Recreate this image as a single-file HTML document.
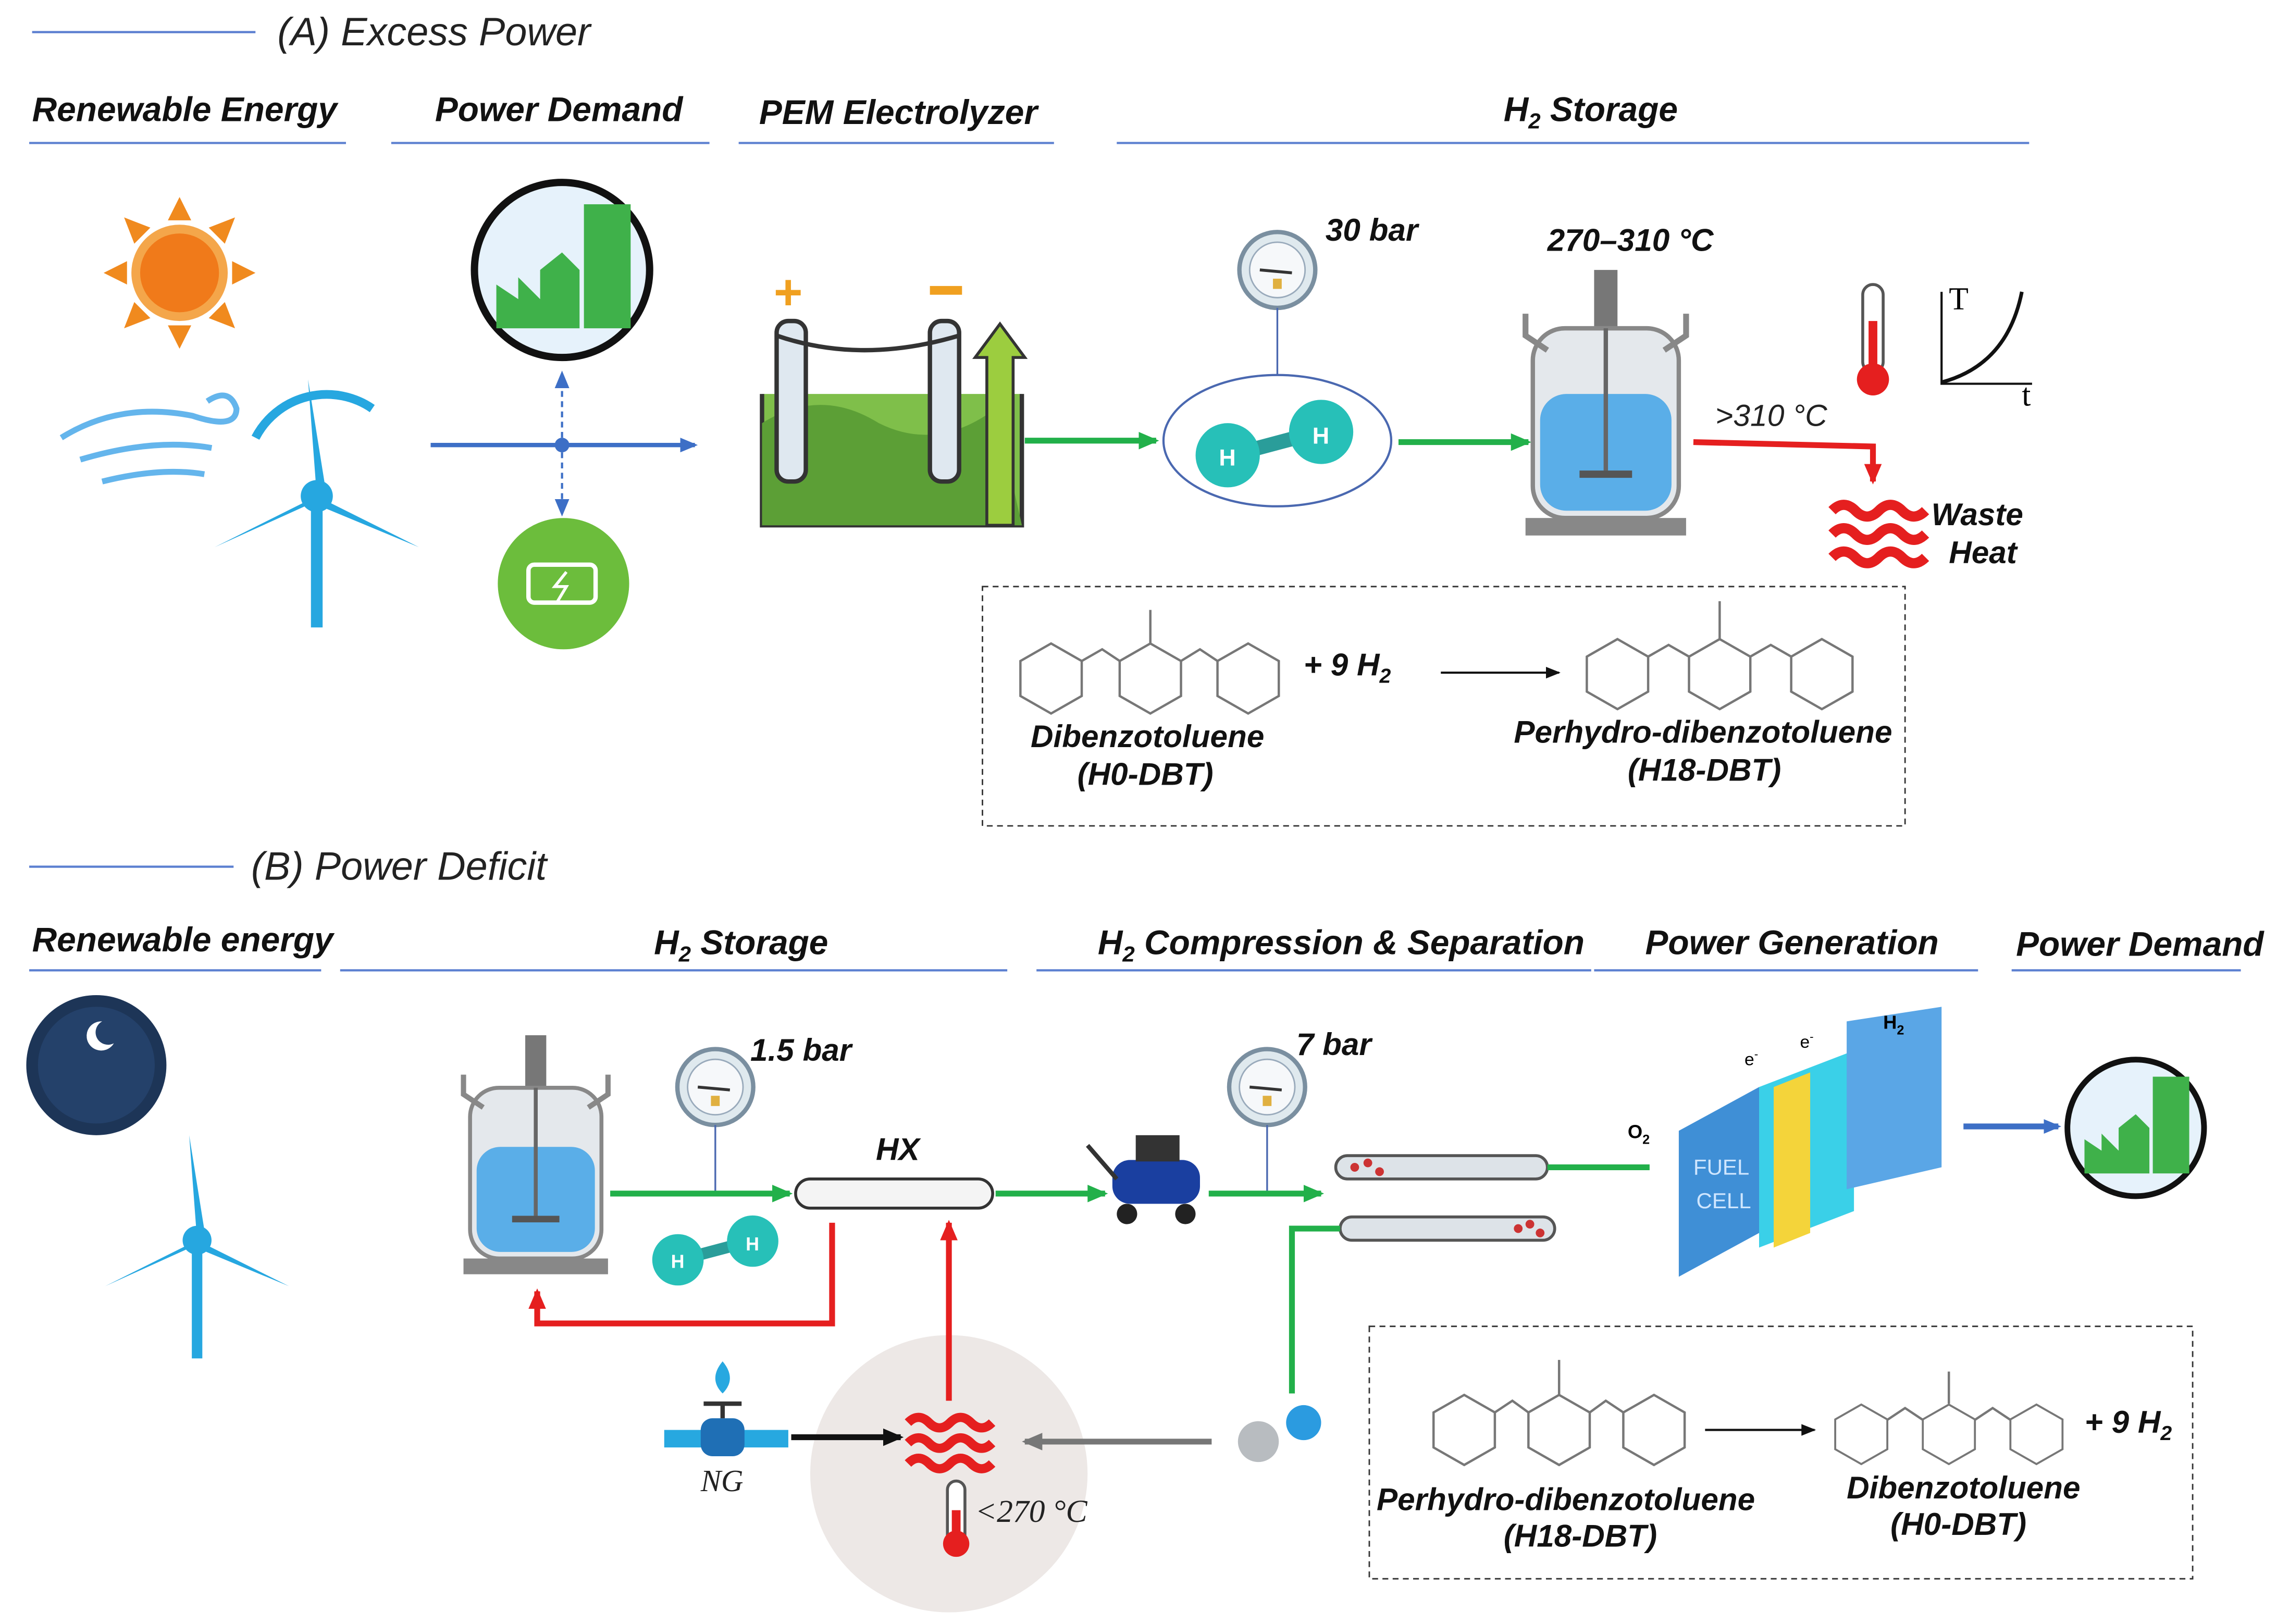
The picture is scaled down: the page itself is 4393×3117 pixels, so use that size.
<!DOCTYPE html>
<html><head><meta charset="utf-8"><style>
html,body{margin:0;padding:0;background:#fff;}
svg{display:block}
text{font-family:"Liberation Sans",sans-serif;}
.h{font-weight:bold;font-style:italic;font-size:23.5px;fill:#111}
.i{font-style:italic;font-size:21px;fill:#222}
.l{font-weight:bold;font-style:italic;font-size:21.5px;fill:#111}
</style></head><body>
<svg width="4393" height="3117" viewBox="0 0 1568 1113" preserveAspectRatio="none" xmlns="http://www.w3.org/2000/svg">
<defs>
<marker id="ag" markerWidth="14" markerHeight="12" refX="12" refY="6" orient="auto" markerUnits="userSpaceOnUse"><path d="M0,0 L14,6 L0,12 z" fill="#22b04a"/></marker>
<marker id="ab" markerWidth="12" markerHeight="10" refX="10" refY="5" orient="auto" markerUnits="userSpaceOnUse"><path d="M0,0 L12,5 L0,10 z" fill="#3d6fc6"/></marker>
<marker id="ar" markerWidth="14" markerHeight="12" refX="12" refY="6" orient="auto" markerUnits="userSpaceOnUse"><path d="M0,0 L14,6 L0,12 z" fill="#e51f1f"/></marker>
<marker id="ak" markerWidth="14" markerHeight="12" refX="12" refY="6" orient="auto" markerUnits="userSpaceOnUse"><path d="M0,0 L14,6 L0,12 z" fill="#111"/></marker>
<marker id="ak2" markerWidth="10" markerHeight="8" refX="9" refY="4" orient="auto" markerUnits="userSpaceOnUse"><path d="M0,0 L10,4 L0,8 z" fill="#111"/></marker>
<marker id="ay" markerWidth="14" markerHeight="12" refX="12" refY="6" orient="auto" markerUnits="userSpaceOnUse"><path d="M0,0 L14,6 L0,12 z" fill="#777"/></marker>
<g id="hex"><polygon points="0,-24 21,-12 21,12 0,24 -21,12 -21,-12" fill="none" stroke="#777" stroke-width="1.6"/></g>
<g id="gauge"><circle r="26" fill="#dfe9ee" stroke="#7a8fa0" stroke-width="3"/><circle r="19" fill="#f6f8fa" stroke="#9ab" stroke-width="1"/><line x1="-12" y1="0" x2="10" y2="2" stroke="#333" stroke-width="2"/><rect x="-3" y="6" width="6" height="7" fill="#e0b040"/></g>
<g id="h2"><line x1="-30" y1="8" x2="30" y2="-8" stroke="#2a9d9a" stroke-width="10"/><circle cx="-32" cy="8" r="22" fill="#27c0b8"/><circle cx="32" cy="-8" r="22" fill="#27c0b8"/><text x="-38" y="15" font-size="16" font-weight="bold" fill="#fff">H</text><text x="26" y="0" font-size="16" font-weight="bold" fill="#fff">H</text></g>
<g id="reactor"><rect x="-8" y="-95" width="16" height="40" fill="#777"/><rect x="-50" y="-55" width="100" height="130" rx="22" fill="#e4e8ec" stroke="#888" stroke-width="3"/><rect x="-45" y="-10" width="90" height="80" rx="18" fill="#5aaee8"/><line x1="0" y1="-55" x2="0" y2="45" stroke="#666" stroke-width="3"/><path d="M-18,45 L18,45" stroke="#555" stroke-width="5"/><rect x="-55" y="75" width="110" height="12" fill="#888"/><path d="M-40,-40 L-55,-50 L-55,-65 M40,-40 L55,-50 L55,-65" stroke="#888" stroke-width="4" fill="none"/></g>
<g id="wave"><path d="M0,0 q8,-8 16,0 t16,0 t16,0 t16,0" fill="none" stroke="#e51f1f" stroke-width="7"/></g>
<g id="city"><circle r="60" fill="#e6f2fb" stroke="#111" stroke-width="5"/><rect x="15" y="-45" width="32" height="85" fill="#3fb14a"/><path d="M-45,40 L-45,10 L-30,20 L-30,5 L-15,20 L-15,0 L0,-12 L12,0 L12,40 z" fill="#3fb14a"/></g>
<g id="turb"><line x1="0" y1="0" x2="0" y2="90" stroke="#26a7e0" stroke-width="8"/><path d="M0,0 L-6,-80 L6,-5 z M0,0 L70,35 L5,8 z M0,0 L-70,35 L-6,6 z" fill="#26a7e0"/><circle r="11" fill="#26a7e0"/></g>
</defs>

<!-- Section A -->
<line x1="22" y1="22" x2="175" y2="22" stroke="#5b7fd0" stroke-width="1.5"/>
<text x="190" y="31" class="i" style="font-size:27px">(A) Excess Power</text>
<text x="22" y="83" class="h">Renewable Energy</text><line x1="20" y1="98" x2="237" y2="98" stroke="#5b7fd0" stroke-width="1.5"/>
<text x="298" y="83" class="h">Power Demand</text><line x1="268" y1="98" x2="486" y2="98" stroke="#5b7fd0" stroke-width="1.5"/>
<text x="520" y="85" class="h">PEM Electrolyzer</text><line x1="506" y1="98" x2="722" y2="98" stroke="#5b7fd0" stroke-width="1.5"/>
<text x="1030" y="83" class="h">H<tspan style="font-size:15px" dy="5">2</tspan><tspan dy="-5"> Storage</tspan></text><line x1="765" y1="98" x2="1390" y2="98" stroke="#5b7fd0" stroke-width="1.5"/>

<!-- sun -->
<g transform="translate(123,187)" fill="#f08a1e"><circle r="30" fill="#f07a1a" stroke="#f4a64a" stroke-width="6"/>
<g><polygon points="-8,-36 8,-36 0,-52"/><polygon points="-8,36 8,36 0,52"/><polygon points="-36,-8 -36,8 -52,0"/><polygon points="36,-8 36,8 52,0"/>
<polygon points="20,-31 31,-20 38,-38"/><polygon points="-20,-31 -31,-20 -38,-38"/><polygon points="20,31 31,20 38,38"/><polygon points="-20,31 -31,20 -38,38"/></g></g>
<path d="M42,300 q40,-25 90,-15 q30,10 30,-5 q-5,-15 -20,-5 M55,315 q50,-15 90,-8 M70,330 q40,-10 70,-5" stroke="#64b5ec" stroke-width="4" fill="none"/>
<use href="#turb" transform="translate(217,340)"/>
<path d="M175,300 a55,55 0 0 1 80,-20" stroke="#26a7e0" stroke-width="6" fill="none"/>

<use href="#city" transform="translate(385,185)"/>
<line x1="295" y1="305" x2="476" y2="305" stroke="#3d6fc6" stroke-width="3" marker-end="url(#ab)"/>
<circle cx="385" cy="305" r="5" fill="#3d6fc6"/>
<line x1="385" y1="300" x2="385" y2="256" stroke="#3d6fc6" stroke-width="1.5" stroke-dasharray="4,3" marker-end="url(#ab)"/>
<line x1="385" y1="310" x2="385" y2="352" stroke="#3d6fc6" stroke-width="1.5" stroke-dasharray="4,3" marker-end="url(#ab)"/>
<circle cx="386" cy="400" r="45" fill="#6cbd3c"/><rect x="362" y="387" width="46" height="26" rx="4" fill="none" stroke="#fff" stroke-width="3"/><path d="M388,392 l-8,10 h8 l-6,10" stroke="#fff" stroke-width="2" fill="none"/>

<!-- electrolyzer -->
<path d="M522,270 L522,360 L700,360 L700,270" fill="#7fbf4a" stroke="#333" stroke-width="3"/>
<path d="M522,290 q40,-25 80,0 q40,20 80,-10 L700,360 L522,360 z" fill="#5c9f36"/>
<rect x="532" y="220" width="20" height="110" rx="8" fill="#dfe8f0" stroke="#333" stroke-width="3"/>
<rect x="637" y="220" width="20" height="110" rx="8" fill="#dfe8f0" stroke="#333" stroke-width="3"/>
<path d="M532,230 Q590,250 657,230" stroke="#333" stroke-width="3" fill="none"/>
<text x="530" y="212" style="font-size:34px;font-weight:bold" fill="#f0a020">+</text><rect x="637" y="196" width="22" height="6" fill="#f0a020"/>
<path d="M676,360 L676,245 L668,245 L685,222 L702,245 L694,245 L694,360 z" fill="#9ccd3f" stroke="#333" stroke-width="2"/>
<line x1="702" y1="302" x2="792" y2="302" stroke="#22b04a" stroke-width="4" marker-end="url(#ag)"/>
<ellipse cx="875" cy="302" rx="78" ry="45" fill="#fff" stroke="#4a68b0" stroke-width="1.5"/>
<use href="#h2" transform="translate(873,304)"/>
<use href="#gauge" transform="translate(875,185)"/><line x1="875" y1="211" x2="875" y2="257" stroke="#4a68b0" stroke-width="1.2"/>
<text x="908" y="165" class="l">30 bar</text>
<line x1="958" y1="303" x2="1047" y2="303" stroke="#22b04a" stroke-width="4" marker-end="url(#ag)"/>
<use href="#reactor" transform="translate(1100,280)"/>
<text x="1060" y="172" class="l">270–310 °C</text>
<polyline points="1160,303 1283,306 1283,330" fill="none" stroke="#e51f1f" stroke-width="4" marker-end="url(#ar)"/>
<text x="1175" y="292" class="i">&gt;310 °C</text>
<rect x="1276" y="195" width="14" height="60" rx="7" fill="#fff" stroke="#555" stroke-width="2"/><rect x="1280" y="220" width="6" height="40" fill="#e51f1f"/><circle cx="1283" cy="260" r="11" fill="#e51f1f"/>
<path d="M1330,200 L1330,263 L1392,263" stroke="#111" fill="none" stroke-width="1.5"/><path d="M1330,262 Q1375,250 1385,200" stroke="#111" fill="none" stroke-width="2.5"/>
<text x="1335" y="212" style="font-family:'Liberation Serif',serif;font-size:22px">T</text><text x="1385" y="278" style="font-family:'Liberation Serif',serif;font-size:22px">t</text>
<use href="#wave" transform="translate(1255,350)"/><use href="#wave" transform="translate(1255,366)"/><use href="#wave" transform="translate(1255,382)"/>
<text x="1323" y="360" class="l">Waste</text><text x="1335" y="386" class="l">Heat</text>

<rect x="673" y="402" width="632" height="164" fill="none" stroke="#333" stroke-dasharray="4,3"/>
<use href="#hex" transform="translate(720,465)"/><use href="#hex" transform="translate(788,465)"/><use href="#hex" transform="translate(855,465)"/>
<path d="M741,453 L755,445 L767,453 M809,453 L822,445 L834,453 M788,441 L788,418" stroke="#777" stroke-width="1.6" fill="none"/>
<text x="893" y="463" class="l">+ 9 H<tspan style="font-size:14px" dy="5">2</tspan></text>
<line x1="987" y1="461" x2="1068" y2="461" stroke="#111" stroke-width="1.5" marker-end="url(#ak2)"/>
<use href="#hex" transform="translate(1108,462)"/><use href="#hex" transform="translate(1178,462)"/><use href="#hex" transform="translate(1248,462)"/>
<path d="M1129,450 L1143,442 L1157,450 M1199,450 L1213,442 L1227,450 M1178,438 L1178,412" stroke="#777" stroke-width="1.6" fill="none"/>
<text x="706" y="512" class="l">Dibenzotoluene</text><text x="738" y="538" class="l">(H0-DBT)</text>
<text x="1037" y="509" class="l">Perhydro-dibenzotoluene</text><text x="1115" y="535" class="l">(H18-DBT)</text>

<!-- Section B -->
<line x1="20" y1="594" x2="160" y2="594" stroke="#5b7fd0" stroke-width="1.5"/>
<text x="172" y="603" class="i" style="font-size:27px">(B) Power Deficit</text>
<text x="22" y="652" class="h">Renewable energy</text><line x1="20" y1="665" x2="220" y2="665" stroke="#5b7fd0" stroke-width="1.5"/>
<text x="448" y="654" class="h">H<tspan style="font-size:15px" dy="5">2</tspan><tspan dy="-5"> Storage</tspan></text><line x1="233" y1="665" x2="690" y2="665" stroke="#5b7fd0" stroke-width="1.5"/>
<text x="752" y="654" class="h">H<tspan style="font-size:15px" dy="5">2</tspan><tspan dy="-5"> Compression &amp; Separation</tspan></text><line x1="710" y1="665" x2="1090" y2="665" stroke="#5b7fd0" stroke-width="1.5"/>
<text x="1127" y="654" class="h">Power Generation</text><line x1="1092" y1="665" x2="1355" y2="665" stroke="#5b7fd0" stroke-width="1.5"/>
<text x="1381" y="655" class="h">Power Demand</text><line x1="1378" y1="665" x2="1535" y2="665" stroke="#5b7fd0" stroke-width="1.5"/>

<circle cx="66" cy="730" r="48" fill="#1d3557"/><circle cx="66" cy="730" r="40" fill="#24416a"/><path d="M70,700 a10,10 0 1 0 8,15 a8,8 0 1 1 -8,-15" fill="#fff"/>
<use href="#turb" transform="translate(135,850) scale(0.9)"/>

<use href="#reactor" transform="translate(367,795) scale(0.9)"/>
<use href="#gauge" transform="translate(490,745)"/><line x1="490" y1="771" x2="490" y2="818" stroke="#4a68b0" stroke-width="1.2"/>
<text x="514" y="727" class="l">1.5 bar</text>
<line x1="418" y1="818" x2="541" y2="818" stroke="#22b04a" stroke-width="4" marker-end="url(#ag)"/>
<use href="#h2" transform="translate(490,857) scale(0.8)"/>
<rect x="545" y="808" width="135" height="20" rx="10" fill="#f4f4f4" stroke="#333" stroke-width="2"/>
<text x="600" y="795" class="l">HX</text>
<line x1="682" y1="818" x2="757" y2="818" stroke="#22b04a" stroke-width="4" marker-end="url(#ag)"/>
<g><rect x="762" y="795" width="60" height="30" rx="12" fill="#1a3fa0"/><circle cx="772" cy="832" r="7" fill="#222"/><circle cx="812" cy="832" r="7" fill="#222"/><rect x="778" y="778" width="30" height="18" fill="#333"/><line x1="745" y1="785" x2="765" y2="808" stroke="#333" stroke-width="3"/></g>
<use href="#gauge" transform="translate(868,745)"/><line x1="868" y1="771" x2="868" y2="818" stroke="#4a68b0" stroke-width="1.2"/>
<text x="888" y="723" class="l">7 bar</text>
<line x1="828" y1="818" x2="905" y2="818" stroke="#22b04a" stroke-width="4" marker-end="url(#ag)"/>
<rect x="915" y="792" width="145" height="16" rx="8" fill="#dde3e8" stroke="#555" stroke-width="2"/>
<circle cx="928" cy="800" r="3" fill="#c33"/><circle cx="937" cy="797" r="3" fill="#c33"/><circle cx="945" cy="803" r="3" fill="#c33"/>
<rect x="918" y="834" width="147" height="16" rx="8" fill="#dde3e8" stroke="#555" stroke-width="2"/>
<circle cx="1040" cy="842" r="3" fill="#c33"/><circle cx="1048" cy="839" r="3" fill="#c33"/><circle cx="1055" cy="845" r="3" fill="#c33"/>
<line x1="1060" y1="800" x2="1130" y2="800" stroke="#22b04a" stroke-width="4"/>
<polyline points="885,955 885,842 918,842" fill="none" stroke="#22b04a" stroke-width="4"/>

<!-- fuel cell -->
<g>
<polygon points="1150,775 1205,745 1205,845 1150,875" fill="#3f8fd6"/>
<polygon points="1205,745 1270,720 1270,830 1205,855" fill="#3ad0e8"/>
<polygon points="1215,745 1240,735 1240,845 1215,855" fill="#f4d43a"/>
<polygon points="1265,700 1330,690 1330,800 1265,815" fill="#5aa6e6"/>
<text x="1160" y="805" style="font-size:15px" fill="#cfe6ff">FUEL</text><text x="1162" y="828" style="font-size:15px" fill="#cfe6ff">CELL</text>
<text x="1115" y="780" style="font-size:13px;font-weight:bold">O<tspan style="font-size:9px" dy="4">2</tspan></text>
<text x="1290" y="705" style="font-size:13px;font-weight:bold">H<tspan style="font-size:9px" dy="4">2</tspan></text>
<text x="1195" y="730" style="font-size:12px">e<tspan style="font-size:8px" dy="-5">-</tspan></text><text x="1233" y="718" style="font-size:12px">e<tspan style="font-size:8px" dy="-5">-</tspan></text>
</g>
<line x1="1345" y1="772" x2="1410" y2="772" stroke="#3d6fc6" stroke-width="4" marker-end="url(#ab)"/>
<use href="#city" transform="translate(1463,773) scale(0.78)"/>

<polyline points="570,838 570,907 368,907 368,885" fill="none" stroke="#e51f1f" stroke-width="4" marker-end="url(#ar)"/>
<circle cx="650" cy="1010" r="95" fill="#e9e2e0" opacity="0.8"/>
<line x1="650" y1="960" x2="650" y2="838" stroke="#e51f1f" stroke-width="4" marker-end="url(#ar)"/>
<use href="#wave" transform="translate(622,975) scale(0.9)"/><use href="#wave" transform="translate(622,989) scale(0.9)"/><use href="#wave" transform="translate(622,1003) scale(0.9)"/>
<rect x="455" y="980" width="85" height="12" fill="#27a8e0"/><rect x="480" y="972" width="30" height="26" rx="8" fill="#1f6fb5"/><line x1="495" y1="972" x2="495" y2="962" stroke="#333" stroke-width="3"/><line x1="482" y1="962" x2="508" y2="962" stroke="#333" stroke-width="3"/>
<path d="M495,955 q-10,-10 0,-22 q10,12 0,22" fill="#27a8e0"/>
<text x="480" y="1022" class="i" style="font-family:'Liberation Serif',serif;font-size:21px">NG</text>
<line x1="542" y1="985" x2="617" y2="985" stroke="#111" stroke-width="4" marker-end="url(#ak)"/>
<line x1="830" y1="988" x2="702" y2="988" stroke="#777" stroke-width="4" marker-end="url(#ay)"/>
<circle cx="862" cy="988" r="14" fill="#b8bcc0"/><circle cx="893" cy="975" r="12" fill="#2b9be0"/>
<rect x="649" y="1015" width="12" height="45" rx="6" fill="#fff" stroke="#555" stroke-width="2"/><rect x="652" y="1035" width="6" height="25" fill="#e51f1f"/><circle cx="655" cy="1058" r="9" fill="#e51f1f"/>
<text x="668" y="1043" class="i" style="font-family:'Liberation Serif',serif;font-size:22px">&lt;270 °C</text>

<rect x="938" y="909" width="564" height="173" fill="none" stroke="#333" stroke-dasharray="4,3"/>
<use href="#hex" transform="translate(1003,980)"/><use href="#hex" transform="translate(1068,980)"/><use href="#hex" transform="translate(1133,980)"/>
<path d="M1024,968 L1036,960 L1047,968 M1089,968 L1100,960 L1112,968 M1068,956 L1068,932" stroke="#777" stroke-width="1.6" fill="none"/>
<line x1="1168" y1="980" x2="1243" y2="980" stroke="#111" stroke-width="1.5" marker-end="url(#ak2)"/>
<use href="#hex" transform="translate(1275,983) scale(0.85)"/><use href="#hex" transform="translate(1335,983) scale(0.85)"/><use href="#hex" transform="translate(1395,983) scale(0.85)"/>
<path d="M1293,973 L1305,965 L1317,973 M1353,973 L1365,965 L1377,973 M1335,962 L1335,940" stroke="#777" stroke-width="1.6" fill="none"/>
<text x="1428" y="982" class="l">+ 9 H<tspan style="font-size:14px" dy="5">2</tspan></text>
<text x="943" y="1035" class="l">Perhydro-dibenzotoluene</text><text x="1030" y="1060" class="l">(H18-DBT)</text>
<text x="1265" y="1027" class="l">Dibenzotoluene</text><text x="1295" y="1052" class="l">(H0-DBT)</text>
</svg>
</body></html>
